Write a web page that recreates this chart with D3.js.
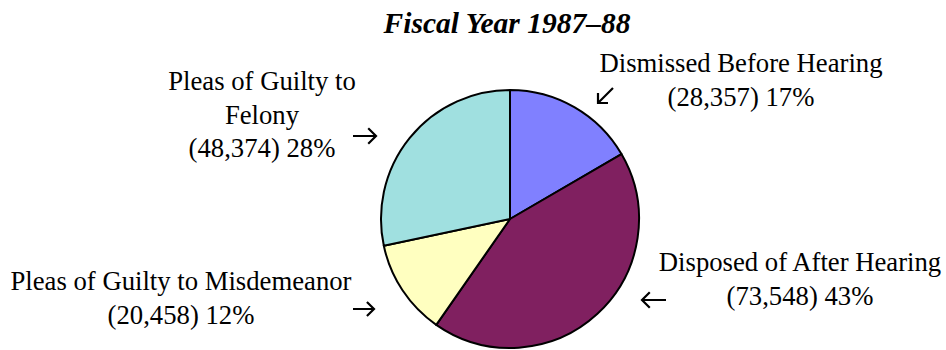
<!DOCTYPE html>
<html>
<head>
<meta charset="utf-8">
<script src="https://cdn.jsdelivr.net/npm/d3@7"></script>
<style>
  html, body { margin: 0; padding: 0; background: #fff; }
  svg { display: block; }
  text { font-family: "Liberation Serif", "Times New Roman", serif; fill: #000; }
</style>
</head>
<body>
<svg id="chart" width="946" height="350"></svg>
<script>
// Felony case dispositions, fiscal year 1987–88
const categories = [
  "Dismissed Before Hearing",
  "Disposed of After Hearing",
  "Pleas of Guilty to Misdemeanor",
  "Pleas of Guilty to Felony"
];
const counts = [28357, 73548, 20458, 48374];
const percentLabels = ["17%", "43%", "12%", "28%"];
const sliceColors = ["#8080ff", "#802060", "#ffffc0", "#a0e0e0"];
const title = "Fiscal Year 1987–88";

// label layout: text lines and anchor point of the first line
const labelLines = [
  ["Dismissed Before Hearing", "(28,357) 17%"],
  ["Disposed of After Hearing", "(73,548) 43%"],
  ["Pleas of Guilty to Misdemeanor", "(20,458) 12%"],
  ["Pleas of Guilty to", "Felony", "(48,374) 28%"]
];
const labelPos = [[741, 72], [800, 271], [181, 290], [262, 90]];
// pointer arrows: [tailX, tailY, tipX, tipY, head length]
const arrows = [
  [613, 88, 598, 103, 10],
  [666, 300, 642, 300, 11],
  [353, 309, 374, 309, 10],
  [353, 136, 376, 136, 11]
];

const svg = d3.select("#chart");
const cx = 510, cy = 219, r = 129;

svg.append("text")
  .attr("x", 507).attr("y", 33)
  .attr("text-anchor", "middle")
  .style("font-size", "29.5px")
  .style("font-weight", "bold")
  .style("font-style", "italic")
  .text(title);

const pie = d3.pie().sort(null).value(d => d)
  .startAngle(0).endAngle(2 * Math.PI);
const arc = d3.arc().innerRadius(0).outerRadius(r);

const g = svg.append("g").attr("transform", `translate(${cx},${cy})`);
g.selectAll("path")
  .data(pie(counts))
  .join("path")
  .attr("d", arc)
  .attr("fill", (d, i) => sliceColors[i])
  .attr("stroke", "#000")
  .attr("stroke-width", 2)
  .attr("stroke-linejoin", "round");

labelLines.forEach((lines, i) => {
  const t = svg.append("text")
    .attr("text-anchor", "middle")
    .style("font-size", "26.7px");
  lines.forEach((line, j) => {
    t.append("tspan")
      .attr("x", labelPos[i][0])
      .attr("y", labelPos[i][1] + j * 33.5)
      .text(line);
  });
});

// open-headed arrows pointing at the slices
function arrowPath([x0, y0, x1, y1, h]) {
  const a = Math.atan2(y1 - y0, x1 - x0);
  const p = d3.path();
  p.moveTo(x0, y0); p.lineTo(x1, y1);
  p.moveTo(x1 - h * Math.cos(a - Math.PI / 4), y1 - h * Math.sin(a - Math.PI / 4));
  p.lineTo(x1, y1);
  p.lineTo(x1 - h * Math.cos(a + Math.PI / 4), y1 - h * Math.sin(a + Math.PI / 4));
  return p.toString();
}
svg.selectAll("path.arrow")
  .data(arrows)
  .join("path")
  .attr("class", "arrow")
  .attr("d", arrowPath)
  .attr("fill", "none")
  .attr("stroke", "#000")
  .attr("stroke-width", 2.2);
</script>
</body>
</html>
